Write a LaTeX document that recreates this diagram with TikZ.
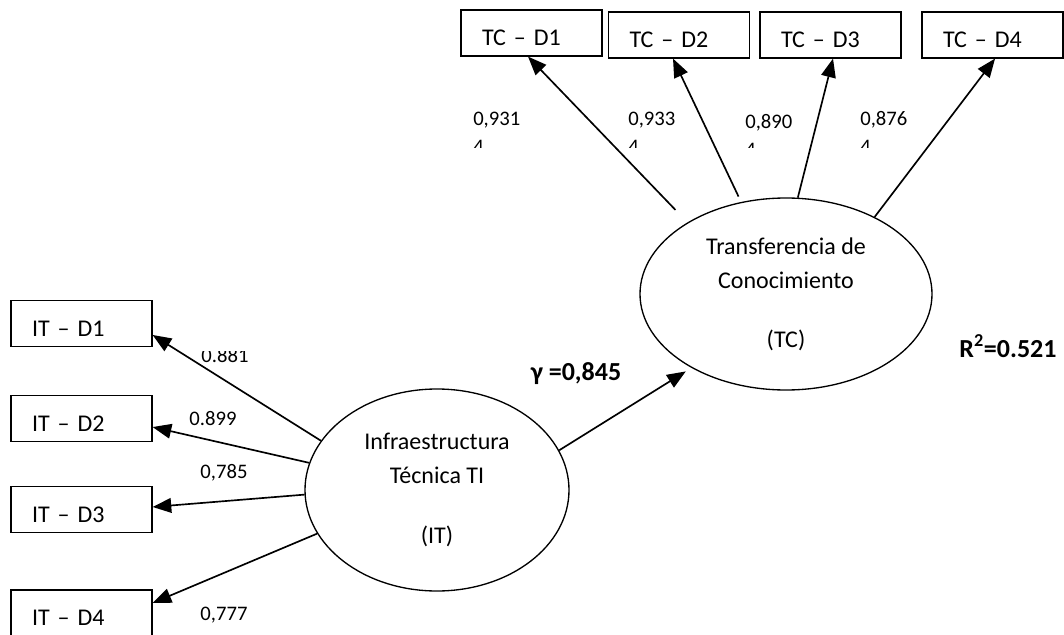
\documentclass[tikz,border=0pt]{standalone}
\usepackage{fontspec}
\setmainfont{Carlito}
\usetikzlibrary{arrows.meta, shapes.geometric}

\begin{document}
\begin{tikzpicture}[
  x=0.75pt, y=-0.75pt,
  ind/.style={draw, line width=0.9pt, minimum height=34.5pt,
              inner xsep=15.75pt, text width=74.25pt, align=left,
              text height=19pt, text depth=0pt,
              font=\fontsize{18}{22}\selectfont},
  lat/.style={draw, ellipse, line width=1pt, inner sep=0pt, align=center,
              font=\fontsize{18}{25.5}\selectfont},
  arr/.style={-{Triangle[length=14pt, width=11pt]}, line width=1.25pt},
  carga/.style={inner sep=0pt, font=\fontsize{15.5}{21}\selectfont},
  coef/.style={inner sep=0pt, font=\fontsize{19.5}{24}\selectfont\bfseries}
]
\path[use as bounding box] (0,0) rectangle (1064,635);
\clip (0,0) rectangle (1064,635);

% constructos
\node[lat, minimum width=219pt, minimum height=144pt] (tc) at (786,294)
  {Transferencia de\\Conocimiento\\[19pt](TC)};
\node[lat, minimum width=198pt, minimum height=151.5pt] (it) at (437,490)
  {Infraestructura\\Técnica TI\\[19pt](IT)};

% indicadores
\node[ind] (tcd1) at (531.5,33) {TC -- D1};
\node[ind] (tcd2) at (679,35)   {TC -- D2};
\node[ind] (tcd3) at (830.5,35) {TC -- D3};
\node[ind] (tcd4) at (992.5,35) {TC -- D4};

\node[ind] (itd1) at (81.5,323.5) {IT -- D1};
\node[ind] (itd2) at (81.5,418.5) {IT -- D2};
\node[ind] (itd3) at (81.5,509.5) {IT -- D3};
\node[ind] (itd4) at (81.5,613)   {IT -- D4};

% cargas
\begin{scope}
\clip (450,90) rectangle (930,147);
\node[carga, anchor=north west, align=left] (ctc1) at (473,112) {0,931\\4};
\node[carga, anchor=north west, align=left] (ctc2) at (628,112) {0,933\\4};
\node[carga, anchor=north west, align=left] (ctc3) at (745,114) {0,890\\4};
\node[carga, anchor=north west, align=left] (ctc4) at (860,111) {0,876\\4};
\end{scope}

\begin{scope}
\clip (190,351) rectangle (260,370);
\node[carga, anchor=base] (cit1) at (225,362) {0.881};
\end{scope}
\node[carga, anchor=base] (cit2) at (213,425) {0.899};
\node[carga, anchor=base] (cit3) at (224,478) {0,785};
\node[carga, anchor=base] (cit4) at (224,620) {0,777};

\node[coef, anchor=base] (gam) at (576,380) {γ =0,845};
\node[coef, anchor=base] (rsq) at (1008,357) {R\textsuperscript{2}=0.521};

% flechas
\draw[arr, shorten <=13pt] (tc.144) -- ([xshift=-2.6pt]tcd1.south);
\draw[arr, shorten <=4.5pt] (tc.116) -- ([xshift=-4.5pt]tcd2.south);
\draw[arr] (tc.83) -- ([xshift=1.9pt]tcd3.south);
\draw[arr] (tc.41) -- ([xshift=1.9pt]tcd4.south);

\draw[arr, shorten >=5pt] (it.18) -- (tc.218);

\draw[arr] (it.157) -- ([yshift=-8.6pt]itd1.east);
\draw[arr] (it.168) -- ([yshift=-6.4pt]itd2.east);
\draw[arr] (it.182) -- ([yshift=1.9pt]itd3.east);
\draw[arr] (it.200) -- ([yshift=7.5pt]itd4.east);
\end{tikzpicture}
\end{document}
